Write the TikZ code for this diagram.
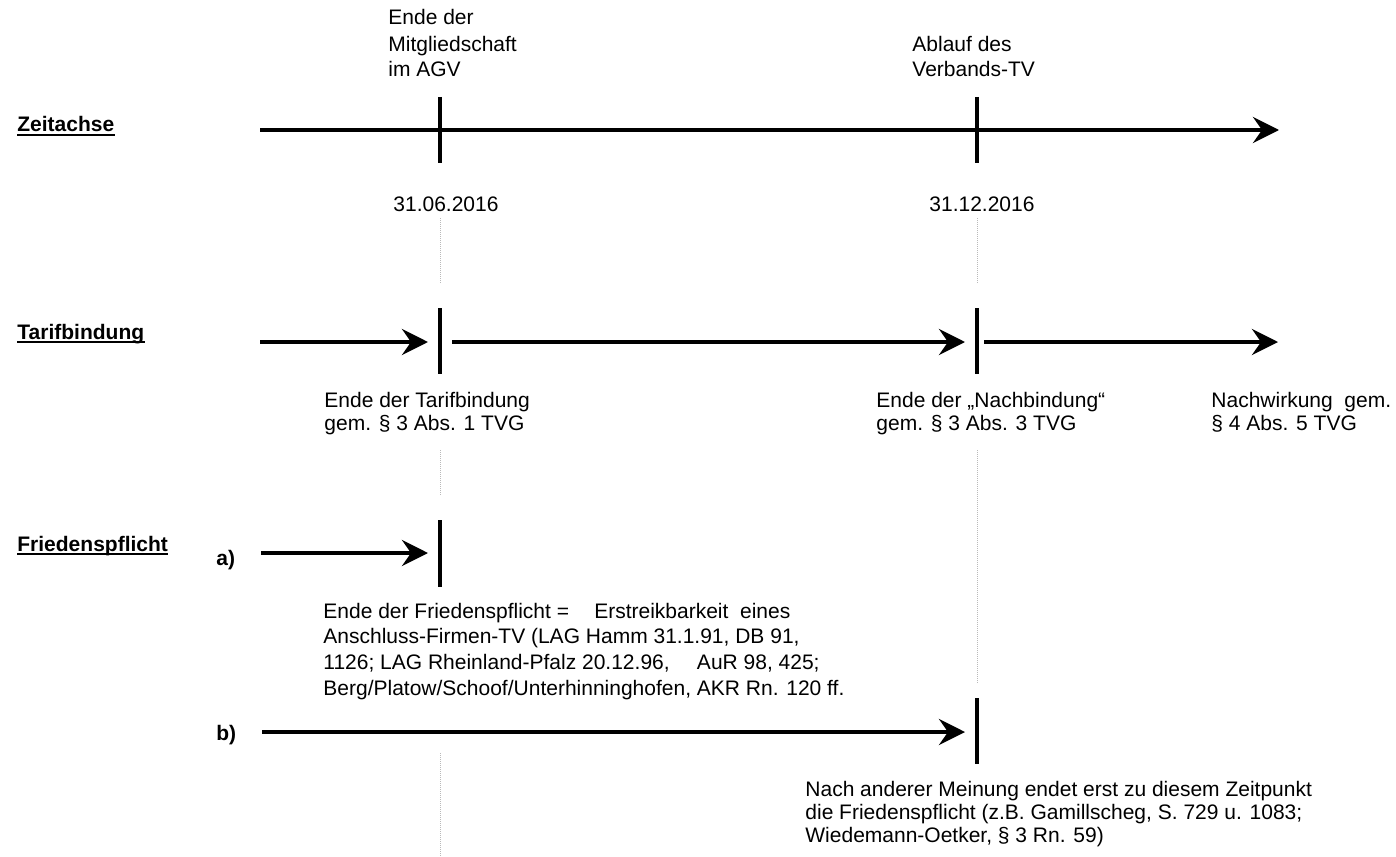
\documentclass[tikz,border=0pt]{standalone}
\usepackage{fontspec}
\setmainfont{Liberation Sans}
\usetikzlibrary{arrows.meta}

\begin{document}
\begin{tikzpicture}[
    x=0.5pt, y=-0.5pt,
    >={Stealth[length=13pt,width=13pt,inset=4.5pt]},
    timearrow/.style={->, line width=2pt},
    tickline/.style={line width=1.6pt},
    guide/.style={draw=gray!55, line width=0.5pt, dash pattern=on 0.5pt off 0.5pt},
    txt/.style={anchor=base west, inner sep=0pt, align=left, font=\fontsize{10.5}{13}\selectfont},
    note/.style={txt, font=\fontsize{10.5}{11.5}\selectfont},
    heading/.style={txt, font=\fontsize{10.5}{13}\selectfont\bfseries},
    uline/.style={line width=1pt},
]
\useasboundingbox (0,0) rectangle (1396,856);

% headings
\node[heading] (zeit) at (17,132) {Zeitachse};
\node[heading] (tarif) at (17,339) {Tarifbindung};
\node[heading] (fried) at (17,551) {Friedenspflicht};
\foreach \h in {zeit, tarif, fried}
  \draw[uline] ([yshift=-1.3pt]\h.base west) -- ([yshift=-1.3pt]\h.base east);
\node[heading] (fa) at (216,565) {a)};
\node[heading] (fb) at (216,740) {b)};

% time axis
\coordinate (z0) at (260,130);
\coordinate (z1) at (1279,130);
\draw[timearrow] (z0) -- (z1);

% Tarifbindung
\coordinate (t0) at (260,342);
\coordinate (t1) at (428,342);
\coordinate (t2) at (452,342);
\coordinate (t3) at (965,342);
\coordinate (t4) at (984,342);
\coordinate (t5) at (1278,342);
\draw[timearrow] (t0) -- (t1);
\draw[timearrow] (t2) -- (t3);
\draw[timearrow] (t4) -- (t5);

% Friedenspflicht
\coordinate (a0) at (261,553);
\coordinate (a1) at (428,553);
\coordinate (b0) at (262,732);
\coordinate (b1) at (965,732);
\draw[timearrow] (a0) -- (a1);
\draw[timearrow] (b0) -- (b1);

% ticks
\foreach \x/\ya/\yb in {440/97/163, 977/97/163, 440/308/374, 977/308/374, 440/520/587, 977/698/764}
  \draw[tickline] (\x,\ya) -- (\x,\yb);

% guide lines
\foreach \x/\ya/\yb in {440/218/283, 977/218/283, 440/450/495, 977/450/684, 440/753/856}
  \draw[guide] (\x,\ya) -- (\x,\yb);

% labels (base = last line)
\node[txt] (endmg) at (388,77) {Ende der\\Mitgliedschaft\\im AGV};
\node[txt] (ablauf) at (912,77) {Ablauf des\\Verbands-TV};
\node[txt] (date1) at (393,211) {31.06.2016};
\node[txt] (date2) at (929,211) {31.12.2016};

\node[note] (endtb) at (324,430) {Ende der Tarifbindung\\gem. § 3 Abs. 1 TVG};
\node[note] (endnb) at (876,430) {Ende der „Nachbindung“\\gem. § 3 Abs. 3 TVG};
\node[note] (nachw) at (1211,430) {Nachwirkung\ \ gem.\\§ 4 Abs. 5 TVG};

\node[txt, font=\fontsize{10.5}{12.8}\selectfont] (endfp) at (323,695)
  {Ende der Friedenspflicht =\hspace{1.2em}Erstreikbarkeit\ \ eines\\
   Anschluss-Firmen-TV (LAG Hamm 31.1.91, DB 91,\\
   1126; LAG Rheinland-Pfalz 20.12.96,\hspace{1.3em}AuR 98, 425;\\
   Berg/Platow/Schoof/Unterhinninghofen, AKR Rn. 120 ff.};
\node[note, font=\fontsize{10.5}{11.3}\selectfont] (andere) at (805,842)
  {Nach anderer Meinung endet erst zu diesem Zeitpunkt\\
   die Friedenspflicht (z.B. Gamillscheg, S. 729 u. 1083;\\
   Wiedemann-Oetker, § 3 Rn. 59)};
\end{tikzpicture}
\end{document}
